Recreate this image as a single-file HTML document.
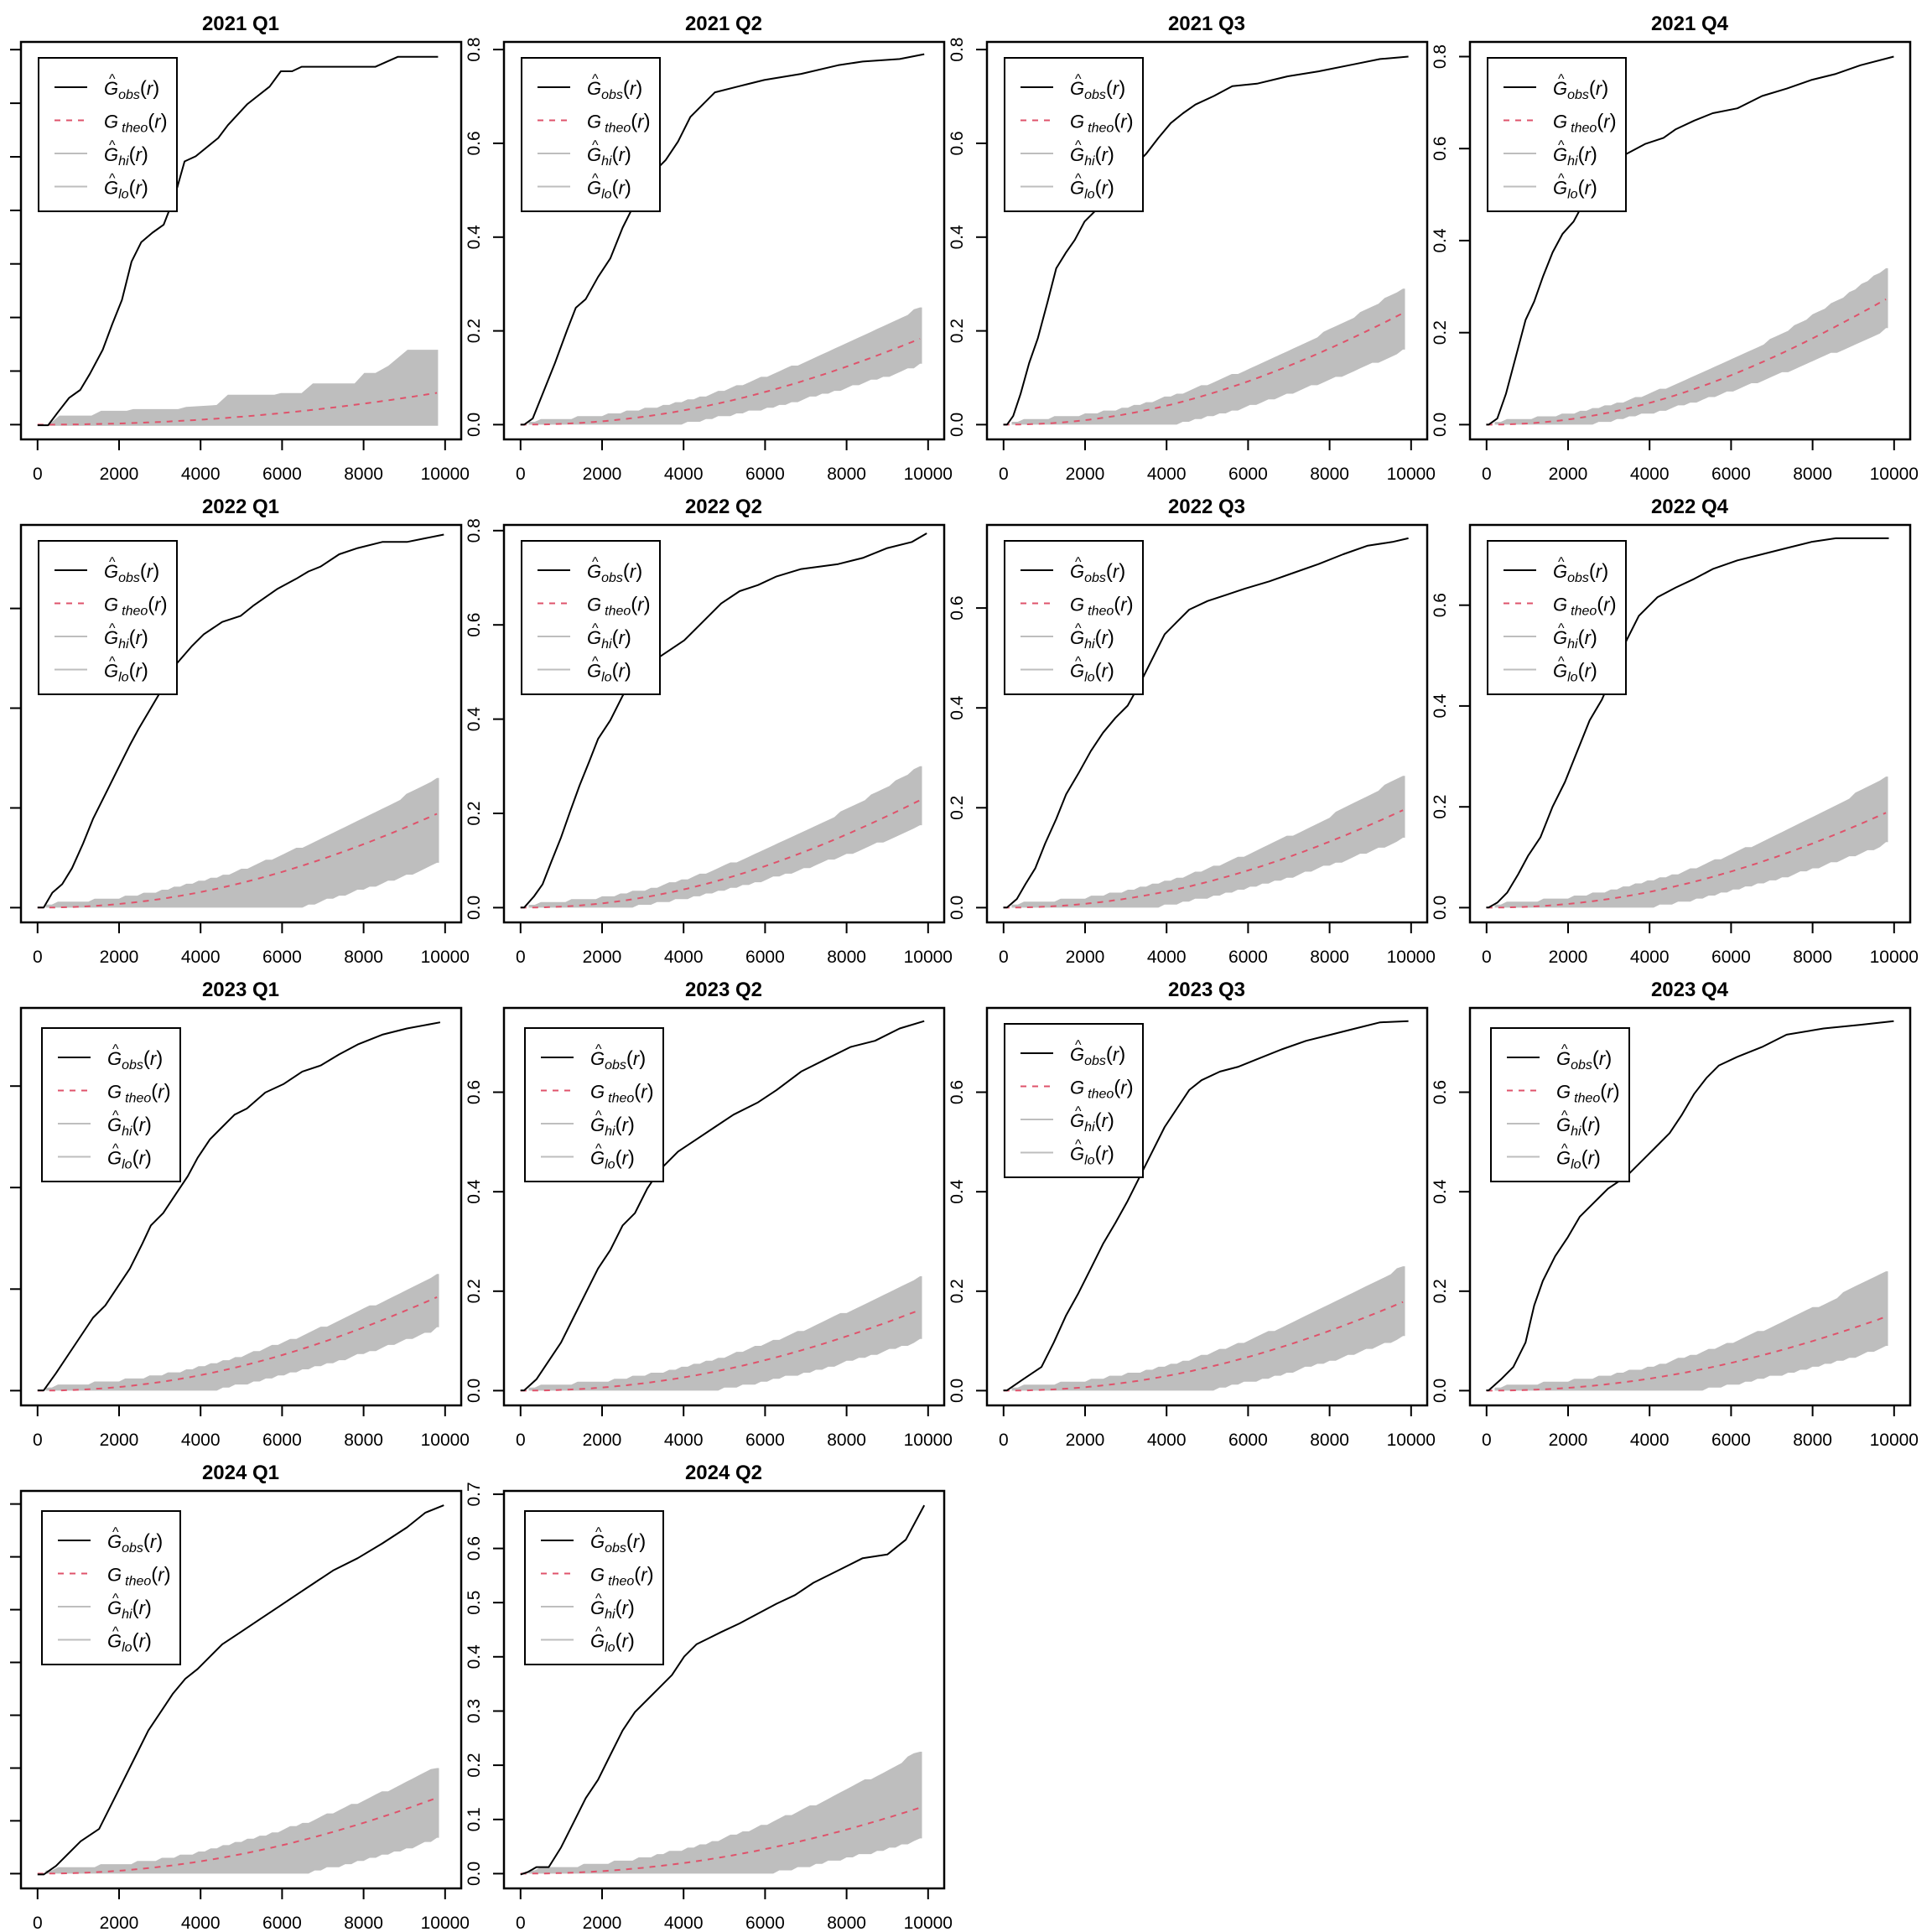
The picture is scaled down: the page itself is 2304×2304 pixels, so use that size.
<!DOCTYPE html>
<html><head><meta charset="utf-8">
<style>html,body{margin:0;padding:0;background:#fff;}svg{display:block;}</style>
</head><body>
<svg id="s" xmlns="http://www.w3.org/2000/svg" width="2304" height="2304" viewBox="0 0 2304 2304" font-family="Liberation Sans, Arial, sans-serif"></svg>
<script>
const D=[
{t:'2021 Q1',M:0.687,st:0.1,th:0.06,hi:0.11,lo:0,z:true,
 obs:[[117,1325],[150,1325],[180,1285],[215,1240],[250,1215],[280,1165],[320,1090],[350,1010],[380,935],[410,815],[440,755],[475,725],[510,700],[545,610],[575,503],[610,487],[680,430],[710,390],[770,325],[840,270],[875,222],[910,222],[940,208],[1170,208],[1240,177],[1365,177]],
 hiP:[[150,1325],[185,1295],[285,1295],[315,1280],[395,1280],[415,1275],[555,1275],[580,1268],[675,1262],[710,1230],[855,1230],[875,1225],[940,1225],[975,1195],[1105,1195],[1135,1162],[1170,1162],[1210,1140],[1270,1090],[1365,1090]]},
{t:'2021 Q2',M:0.785,st:0.2,th:0.185,hi:0.25,lo:0.13,
 obs:[[422,345],[425,345],[432,340],[440,320],[450,295],[460,268],[467,250],[475,243],[485,225],[495,210],[505,185],[515,165],[525,150],[530,140],[540,130],[550,115],[560,95],[570,85],[580,75],[600,70],[620,65],[650,60],[680,53],[700,50],[730,48],[750,44]]},
{t:'2021 Q3',M:0.785,st:0.2,th:0.24,hi:0.29,lo:0.16,
 obs:[[814,345],[817,345],[822,338],[828,320],[835,295],[842,275],[850,245],[857,218],[865,205],[872,195],[880,180],[890,170],[900,160],[910,145],[920,135],[930,125],[940,112],[950,100],[960,92],[970,85],[985,78],[1000,70],[1020,68],[1045,62],[1070,58],[1100,52],[1120,48],[1143,46]]},
{t:'2021 Q4',M:0.80,st:0.2,th:0.275,hi:0.34,lo:0.21,
 obs:[[1206,345],[1208,345],[1215,340],[1222,320],[1230,290],[1238,260],[1245,245],[1252,225],[1260,205],[1268,190],[1277,180],[1285,165],[1292,150],[1300,140],[1310,130],[1320,125],[1335,117],[1350,112],[1360,105],[1375,98],[1390,92],[1410,88],[1430,78],[1450,72],[1470,65],[1490,60],[1510,53],[1537,46]]},
{t:'2022 Q1',M:0.738,st:0.2,th:0.19,hi:0.26,lo:0.09,
 obs:[[30,737],[35,737],[42,725],[50,718],[58,705],[67,685],[75,665],[85,645],[95,625],[105,605],[112,592],[122,575],[132,558],[142,540],[155,525],[165,515],[180,505],[195,500],[205,492],[215,485],[225,478],[240,470],[250,464],[260,460],[275,450],[290,445],[310,440],[330,440],[345,437],[360,434]]},
{t:'2022 Q2',M:0.781,st:0.2,th:0.23,hi:0.30,lo:0.175,
 obs:[[422,737],[425,737],[433,728],[440,718],[447,700],[455,680],[462,660],[470,638],[478,618],[485,600],[495,585],[505,565],[515,550],[525,540],[540,530],[555,520],[570,505],[585,490],[600,480],[615,475],[630,468],[650,462],[680,458],[700,453],[720,445],[740,440],[752,433]]},
{t:'2022 Q3',M:0.737,st:0.2,th:0.197,hi:0.264,lo:0.14,
 obs:[[814,737],[817,737],[825,730],[832,718],[840,705],[848,685],[857,665],[865,645],[875,628],[885,610],[895,595],[905,583],[915,573],[925,555],[935,535],[945,515],[955,505],[965,495],[980,488],[995,483],[1010,478],[1030,472],[1050,465],[1070,458],[1090,450],[1110,443],[1130,440],[1143,437]]},
{t:'2022 Q4',M:0.73,st:0.2,th:0.19,hi:0.26,lo:0.13,
 obs:[[1206,737],[1208,737],[1215,733],[1223,725],[1232,710],[1240,695],[1250,680],[1260,655],[1270,635],[1280,610],[1290,585],[1300,568],[1310,545],[1320,520],[1330,500],[1345,485],[1360,477],[1375,470],[1390,462],[1410,455],[1430,450],[1450,445],[1470,440],[1490,437],[1510,437],[1533,437]]},
{t:'2023 Q1',M:0.725,st:0.2,th:0.186,hi:0.23,lo:0.125,lg:1,
 obs:[[30,1129],[35,1129],[45,1115],[55,1100],[65,1085],[75,1070],[85,1060],[95,1045],[105,1030],[115,1010],[122,995],[132,985],[142,970],[152,955],[160,940],[170,925],[180,915],[190,905],[200,900],[215,887],[230,880],[245,870],[260,865],[275,856],[290,848],[310,840],[330,835],[357,830]]},
{t:'2023 Q2',M:0.74,st:0.2,th:0.164,hi:0.23,lo:0.104,lg:1,
 obs:[[422,1129],[425,1129],[435,1120],[445,1105],[455,1090],[465,1070],[475,1050],[485,1030],[495,1015],[505,995],[515,985],[525,965],[535,950],[550,935],[565,925],[580,915],[595,905],[615,895],[630,885],[650,870],[670,860],[690,850],[710,845],[730,835],[750,829]]},
{t:'2023 Q3',M:0.74,st:0.2,th:0.18,hi:0.25,lo:0.11,
 obs:[[814,1129],[817,1129],[830,1120],[845,1110],[855,1090],[865,1068],[875,1050],[885,1030],[895,1010],[905,993],[915,975],[925,955],[935,935],[945,915],[955,900],[965,885],[975,877],[990,870],[1005,866],[1020,860],[1040,852],[1060,845],[1080,840],[1100,835],[1120,830],[1143,829]]},
{t:'2023 Q4',M:0.74,st:0.2,th:0.15,hi:0.24,lo:0.09,lg:1,
 obs:[[1206,1129],[1208,1129],[1218,1120],[1228,1110],[1238,1090],[1245,1060],[1252,1040],[1262,1020],[1272,1005],[1282,988],[1295,975],[1305,965],[1320,955],[1335,940],[1345,930],[1355,920],[1365,905],[1375,888],[1385,875],[1395,865],[1410,858],[1430,850],[1450,840],[1480,835],[1510,832],[1537,829]]},
{t:'2024 Q1',M:0.697,st:0.1,th:0.145,hi:0.2,lo:0.068,lg:1,
 obs:[[30,1522],[35,1522],[45,1515],[55,1505],[65,1495],[80,1485],[90,1465],[100,1445],[110,1425],[120,1405],[130,1390],[140,1375],[150,1363],[160,1355],[170,1345],[180,1335],[195,1325],[210,1315],[225,1305],[240,1295],[255,1285],[270,1275],[290,1265],[310,1253],[330,1240],[345,1228],[360,1222]]},
{t:'2024 Q2',M:0.679,st:0.1,th:0.123,hi:0.225,lo:0.065,lg:1,
 obs:[[422,1522],[428,1520],[435,1516],[445,1516],[455,1500],[465,1480],[475,1460],[485,1445],[495,1425],[505,1405],[515,1390],[525,1380],[535,1370],[545,1360],[555,1345],[565,1335],[575,1330],[585,1325],[600,1318],[615,1310],[630,1302],[645,1295],[660,1285],[680,1275],[700,1265],[720,1262],[735,1250],[750,1222]]}
];
let h='';
const f2=v=>v.toFixed(1);
D.forEach((p,i)=>{
 const c=i%4,r=Math.floor(i/4),ox=576*c,oy=576*r;
 const X=v=>ox+44.8+v*0.0486, Y=v=>oy+506.4-v/p.M*438.9;
 const k=-Math.log(1-p.th)/Math.pow(9850,2.1);
 const th=x=>1-Math.exp(-k*Math.pow(x,2.1));
 let top=[],bot=[],tl=[];
 if(p.z){
   top=p.hiP.map(q=>[ox+q[0]/2.613,oy+q[1]/2.613]);
   bot=[[ox+1365/2.613,oy+1327/2.613],[ox+150/2.613,oy+1327/2.613]];
 } else {
   const d=0.008,b=(p.hi-d)/p.th,a=0.8,cc=Math.max(0.005,a*p.th-p.lo);
   const q=0.006;
   for(let x=200;x<=9850;x+=150){
     let hv=Math.ceil((th(x)*b+d*Math.min(1,x/600))/q)*q;
     let lv=Math.max(0,Math.floor((th(x)*a-cc)/q)*q);
     if(x>=9700){hv=p.hi;lv=p.lo;}
     top.push([X(x),Y(hv)]);bot.unshift([X(x),Y(lv)]);
   }
   top.push([X(9850),Y(p.hi)]);bot.unshift([X(9850),Y(p.lo)]);
 }
 h+=`<polygon fill="#bebebe" points="${top.concat(bot).map(q=>f2(q[0])+','+f2(q[1])).join(' ')}"/>`;
 for(let x=0;x<=9850;x+=100)tl.push(f2(X(x))+','+f2(Y(th(x))));
 h+=`<polyline fill="none" stroke="#df536b" stroke-width="2" stroke-dasharray="7,7" points="${tl.join(' ')}"/>`;
 let op;
 if(p.z) op=p.obs.map(q=>[ox+q[0]/2.613,oy+q[1]/2.613]);
 else op=p.obs.map(q=>{const xr=q[0]-c*392.1,yr=q[1]-r*392.1;return [ox+44.8+(xr-30)/331*486, oy+506.4-(345-yr)/299*438.9];});
 h+=`<polyline fill="none" stroke="#000" stroke-width="2" stroke-linejoin="round" points="${op.map(q=>f2(q[0])+','+f2(q[1])).join(' ')}"/>`;
 h+=`<rect x="${ox+25}" y="${oy+50}" width="525" height="474" fill="none" stroke="#000" stroke-width="2.5"/>`;
 h+=`<text x="${ox+287}" y="${oy+36}" font-size="24" font-weight="bold" text-anchor="middle">${p.t}</text>`;
 for(let v=0;v<=10000;v+=2000){const x=X(v);
  h+=`<line x1="${f2(x)}" y1="${oy+524}" x2="${f2(x)}" y2="${oy+537}" stroke="#000" stroke-width="2"/>`;
  h+=`<text x="${f2(x)}" y="${oy+572}" font-size="21" text-anchor="middle">${v}</text>`;}
 for(let j=0;;j++){const v=j*p.st;const y=Y(v);if(y<oy+50)break;
  h+=`<line x1="${ox+12}" y1="${f2(y)}" x2="${ox+25}" y2="${f2(y)}" stroke="#000" stroke-width="2"/>`;
  h+=`<text transform="translate(${ox-4},${f2(y)}) rotate(-90)" font-size="21" text-anchor="middle">${v.toFixed(1)}</text>`;}
 const lx=ox+(p.lg?50:46), ly=oy+(p.lg?74:69);
 h+=`<rect x="${lx}" y="${ly}" width="165" height="183" fill="#fff" stroke="#000" stroke-width="2"/>`;
 const L=[['obs','#000',0,1],['theo','#df536b',1,0],['hi','#bebebe',0,1],['lo','#bebebe',0,1]];
 L.forEach((e,k2)=>{const yy=ly+35+k2*39.5;
  h+=`<line x1="${lx+19}" y1="${yy}" x2="${lx+58}" y2="${yy}" stroke="${e[1]}" stroke-width="2"${e[2]?' stroke-dasharray="7,7"':''}/>`;
  const tx=lx+78;
  if(e[3])h+=`<text x="${tx+6}" y="${yy-5}" font-size="16">^</text>`;
  h+=`<text x="${tx}" y="${yy+9}" font-size="22" font-style="italic">G<tspan dx="${e[2]?4:0}" dy="5" font-size="16">${e[0]}</tspan><tspan dy="-5" font-style="normal" font-size="24">(</tspan>r<tspan font-style="normal" font-size="24">)</tspan></text>`;
 });
});
document.getElementById('s').innerHTML=h;
</script>
</body></html>
